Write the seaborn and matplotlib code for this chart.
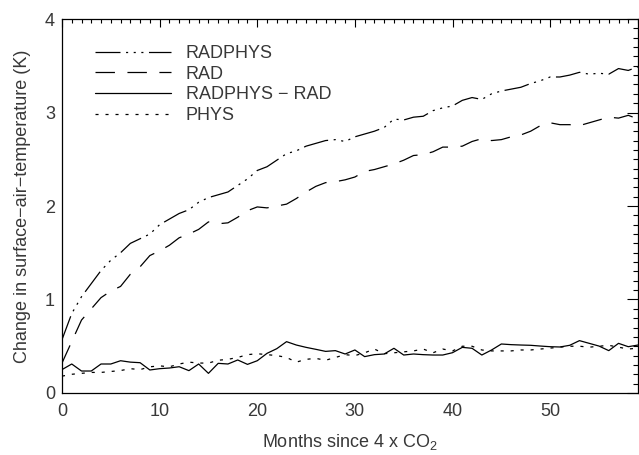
import matplotlib
matplotlib.use('Agg')
import matplotlib.pyplot as plt
import numpy as np
import pandas as pd
import seaborn as sns

# months since the CO2 step
months = list(range(60))

radphys = [0.57, 0.85, 1.03, 1.17, 1.31, 1.42, 1.50, 1.60, 1.65, 1.70,
           1.80, 1.86, 1.92, 1.96, 2.04, 2.09, 2.12, 2.15, 2.22, 2.29,
           2.38, 2.42, 2.49, 2.56, 2.59, 2.64, 2.67, 2.70, 2.71, 2.69,
           2.74, 2.77, 2.80, 2.84, 2.93, 2.92, 2.95, 2.96, 3.02, 3.05,
           3.07, 3.13, 3.16, 3.14, 3.20, 3.23, 3.25, 3.27, 3.31, 3.34,
           3.38, 3.38, 3.40, 3.43, 3.41, 3.42, 3.41, 3.47, 3.45, 3.49]

rad = [0.32, 0.55, 0.78, 0.90, 1.02, 1.09, 1.14, 1.27, 1.35, 1.47,
       1.52, 1.58, 1.66, 1.70, 1.75, 1.83, 1.81, 1.82, 1.88, 1.95,
       1.99, 1.98, 2.00, 2.02, 2.08, 2.15, 2.21, 2.25, 2.26, 2.28,
       2.31, 2.37, 2.39, 2.42, 2.45, 2.49, 2.54, 2.55, 2.58, 2.63,
       2.63, 2.64, 2.69, 2.72, 2.70, 2.71, 2.74, 2.76, 2.80, 2.86,
       2.89, 2.87, 2.87, 2.86, 2.89, 2.92, 2.95, 2.94, 2.97, 2.93]

diff = [0.25, 0.31, 0.235, 0.235, 0.31, 0.31, 0.345, 0.33, 0.324, 0.246,
        0.26, 0.267, 0.281, 0.239, 0.31, 0.21, 0.317, 0.31, 0.353, 0.306,
        0.345, 0.424, 0.474, 0.549, 0.513, 0.488, 0.467, 0.445, 0.453, 0.417,
        0.46, 0.389, 0.41, 0.417, 0.478, 0.406, 0.417, 0.41, 0.406, 0.406,
        0.431, 0.488, 0.478, 0.406, 0.46, 0.524, 0.517, 0.513, 0.51, 0.502,
        0.495, 0.492, 0.51, 0.56, 0.531, 0.502, 0.453, 0.531, 0.495, 0.513]

phys = [0.18, 0.20, 0.21, 0.22, 0.22, 0.23, 0.24, 0.26, 0.25, 0.28,
        0.29, 0.28, 0.31, 0.33, 0.32, 0.32, 0.35, 0.36, 0.38, 0.41,
        0.42, 0.41, 0.40, 0.38, 0.33, 0.36, 0.37, 0.35, 0.38, 0.41,
        0.40, 0.43, 0.47, 0.42, 0.43, 0.44, 0.45, 0.47, 0.43, 0.47,
        0.45, 0.50, 0.50, 0.46, 0.45, 0.45, 0.45, 0.46, 0.46, 0.47,
        0.48, 0.49, 0.50, 0.50, 0.49, 0.50, 0.51, 0.49, 0.47, 0.48]

names = ['RADPHYS', 'RAD', 'RADPHYS \u2212 RAD', 'PHYS']

sns.set_theme(style='white')
plt.rcParams['font.family'] = ['Liberation Sans', 'DejaVu Sans']
plt.rcParams['mathtext.default'] = 'regular'
plt.rcParams['lines.scale_dashes'] = False

df = pd.concat([
    pd.DataFrame({'month': months, 'value': vals, 'run': name})
    for name, vals in zip(names, [radphys, rad, diff, phys])
])

dash_map = {
    names[0]: (18, 4, 1.5, 4, 1.5, 4, 1.5, 4),
    names[1]: (14, 9),
    names[2]: '',
    names[3]: (2.2, 5),
}

fig = plt.figure(figsize=(6.39, 4.55), dpi=100)
ax = fig.add_axes([0.097, 0.1363, 0.9015, 0.8219])

sns.lineplot(data=df, x='month', y='value', hue='run', style='run',
             hue_order=names, style_order=names,
             palette=['black'] * 4, dashes=dash_map, linewidth=0.9,
             ax=ax, legend=True)

ax.set_xlim(0, 59)
ax.set_ylim(0, 4)
ax.set_xticks(range(0, 60, 10))
ax.set_xticks(range(0, 60), minor=True)
ax.set_yticks(range(0, 5))
ax.set_yticks(np.arange(0, 4.01, 0.1), minor=True)

txt = '#383838'
ax.tick_params(axis='both', which='both', direction='in', top=True, right=True,
               color='black', width=0.8, labelcolor=txt, labelsize=13)
ax.tick_params(axis='y', which='major', length=8, pad=5)
ax.tick_params(axis='y', which='minor', length=3.5)
ax.tick_params(axis='x', which='major', length=6, pad=7)
ax.tick_params(axis='x', which='minor', length=3)
for sp in ax.spines.values():
    sp.set_color('black')
    sp.set_linewidth(0.9)

ax.set_xlabel('Months since 4 x CO$_2$', fontsize=13, color=txt, labelpad=9)
ax.set_ylabel('Change in surface\u2212air\u2212temperature (K)', fontsize=13,
              color=txt, labelpad=10)

handles, labels = ax.get_legend_handles_labels()
leg = ax.legend(handles, labels, loc='upper left', bbox_to_anchor=(0.057, 0.93),
                frameon=False, fontsize=13, handlelength=4.2, handletextpad=0.85,
                labelspacing=0.2, borderpad=0, borderaxespad=0)
for t in leg.get_texts():
    t.set_color(txt)

plt.savefig('out.png', dpi=100)
